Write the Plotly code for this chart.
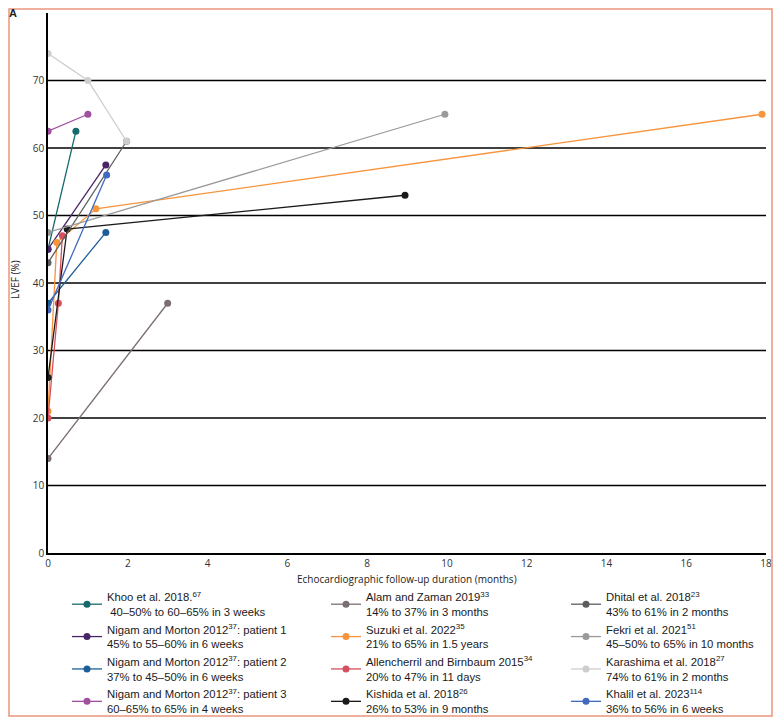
import plotly.graph_objects as go

# study names (first legend line) and result summaries (second line)
studies = [
    "Khoo et al. 2018.<sup>67</sup>",
    "Nigam and Morton 2012<sup>37</sup>: patient 1",
    "Nigam and Morton 2012<sup>37</sup>: patient 2",
    "Nigam and Morton 2012<sup>37</sup>: patient 3",
    "Alam and Zaman 2019<sup>33</sup>",
    "Suzuki et al. 2022<sup>35</sup>",
    "Allencherril and Birnbaum 2015<sup>34</sup>",
    "Kishida et al. 2018<sup>26</sup>",
    "Dhital et al. 2018<sup>23</sup>",
    "Fekri et al. 2021<sup>51</sup>",
    "Karashima et al. 2018<sup>27</sup>",
    "Khalil et al. 2023<sup>114</sup>",
]
summaries = [
    " 40–50% to 60–65% in 3 weeks",
    "45% to 55–60% in 6 weeks",
    "37% to 45–50% in 6 weeks",
    "60–65% to 65% in 4 weeks",
    "14% to 37% in 3 months",
    "21% to 65% in 1.5 years",
    "20% to 47% in 11 days",
    "26% to 53% in 9 months",
    "43% to 61% in 2 months",
    "45–50% to 65% in 10 months",
    "74% to 61% in 2 months",
    "36% to 56% in 6 weeks",
]
# follow-up time (months) and LVEF (%) per study
months = [
    [0, 0.7],
    [0, 1.45],
    [0, 1.45],
    [0, 1.0],
    [0, 3],
    [0, 0.22, 1.2, 17.9],
    [0, 0.26, 0.36],
    [0, 0.48, 8.95],
    [0, 1.97],
    [0, 9.95],
    [0, 1.0, 1.97],
    [0, 1.47],
]
lvef = [
    [45, 62.5],
    [45, 57.5],
    [37, 47.5],
    [62.5, 65],
    [14, 37],
    [21, 46, 51, 65],
    [20, 37, 47],
    [26, 48, 53],
    [43, 61],
    [47.5, 65],
    [74, 70, 61],
    [36, 56],
]
colors = ["#17696b", "#4a2468", "#1e5e98", "#a0509f", "#7b6f73", "#f7943c",
          "#d4505c", "#1a1a1a", "#5e5e5e", "#9a9a9a", "#cdcdcd", "#4169c0"]
y_ticks = [0, 10, 20, 30, 40, 50, 60, 70, 80]
x_ticks = [0, 2, 4, 6, 8, 10, 12, 14, 16, 18]

fig = go.Figure()
legends = ["legend", "legend2", "legend3"]
for i in range(len(studies)):
    fig.add_trace(go.Scatter(
        x=months[i], y=lvef[i], mode="lines+markers",
        name=studies[i] + "<br>" + summaries[i],
        legend=legends[i // 4], legendgroup="g%d" % i,
        line=dict(color=colors[i], width=1.3),
        marker=dict(color=colors[i], size=7),
    ))

# horizontal grid lines (none at the top edge)
for v in y_ticks[1:-1]:
    fig.add_hline(y=v, line_color="black", line_width=1.3, layer="below")

# the page body adds an 8px margin, so work in page pixels and shift
OFF = 8
W, H = 781 - 2 * OFF, 725 - 2 * OFF
L, R, T, B = 48 - OFF, W - (766 - OFF), 13 - OFF, H - (553 - OFF)
pw, ph = W - L - R, H - T - B

def px_x(p):
    return (p - OFF - L) / pw

def px_y(p):
    return (H - B - (p - OFF)) / ph

def cx(p):
    return (p - OFF) / W

def cy(p):
    return 1 - (p - OFF) / H

leg = dict(font=dict(family="Liberation Sans, Arial", size=11.3, color="#1a1a1a"),
           bgcolor="rgba(0,0,0,0)", yanchor="top", xanchor="left",
           xref="container", yref="container",
           tracegroupgap=0, itemwidth=30)

fig.update_layout(
    width=W, height=H,
    margin=dict(l=L, r=R, t=T, b=B, autoexpand=False),
    plot_bgcolor="white", paper_bgcolor="white",
    font=dict(family="Open Sans", size=10, color="#333"),
    xaxis=dict(range=[0, 18], tickvals=x_ticks, showgrid=False, zeroline=False,
               showline=True, linecolor="black", linewidth=1.5, ticks="",
               tickfont=dict(size=10, color="#333")),
    yaxis=dict(range=[0, 80], tickvals=y_ticks, showgrid=False, zeroline=False,
               showline=True, linecolor="black", linewidth=1.5, ticks="",
               tickfont=dict(size=10, color="#333")),
    legend=dict(leg, x=cx(67), y=cy(583)),
    legend2=dict(leg, x=cx(326), y=cy(583)),
    legend3=dict(leg, x=cx(566), y=cy(583)),
    showlegend=True,
)

fig.add_annotation(text="Echocardiographic follow-up duration (months)",
                   xref="paper", yref="paper", x=px_x(407), y=px_y(579),
                   xanchor="center", yanchor="middle",
                   showarrow=False, font=dict(size=10, color="#222"))
fig.add_annotation(text="LVEF (%)", textangle=-90, xref="paper", yref="paper",
                   x=px_x(15), y=px_y(280), xanchor="center", yanchor="middle",
                   showarrow=False, font=dict(size=10, color="#222"))
fig.add_annotation(text="<b>A</b>", xref="paper", yref="paper",
                   x=px_x(13), y=px_y(13), xanchor="center", yanchor="middle",
                   showarrow=False,
                   font=dict(family="Liberation Sans, Arial", size=11, color="#222"))
fig.add_shape(type="rect", xref="paper", yref="paper",
              x0=px_x(OFF + 1), x1=px_x(OFF + W - 1),
              y0=px_y(OFF + H - 1), y1=px_y(OFF + 1),
              line=dict(color="#e9967c", width=1.5))

fig.write_html("out.html")
